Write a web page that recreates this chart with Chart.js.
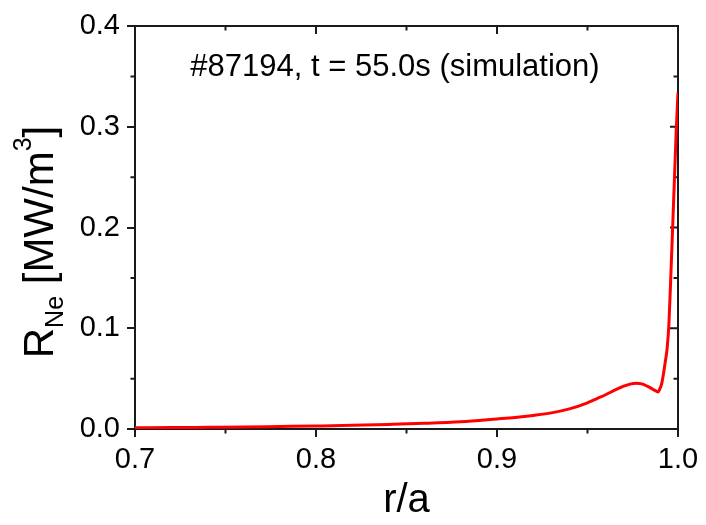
<!DOCTYPE html>
<html>
<head>
<meta charset="utf-8">
<script src="https://cdn.jsdelivr.net/npm/chart.js@4"></script>
<style>
  html, body { margin: 0; padding: 0; background: #fff; }
  canvas { display: block; }
</style>
</head>
<body>
<canvas id="c" width="706" height="525"></canvas>
<script>
// ---- data ----
const rValues = [0.70, 0.72, 0.74, 0.76, 0.78, 0.80, 0.82, 0.84, 0.86, 0.88, 0.90, 0.91, 0.92, 0.93, 0.94, 0.95, 0.955, 0.96, 0.965, 0.97, 0.974, 0.977, 0.980, 0.983, 0.986, 0.988, 0.989, 0.990, 0.991, 0.992, 0.993, 0.994, 0.995, 0.996, 0.997, 0.998, 0.999, 1.000];
const rNeValues = [0.0012, 0.0014, 0.0017, 0.0020, 0.0025, 0.0030, 0.0036, 0.0045, 0.0056, 0.0072, 0.0100, 0.0115, 0.0135, 0.0160, 0.0200, 0.0260, 0.0300, 0.0340, 0.0385, 0.0425, 0.0448, 0.0455, 0.0448, 0.0425, 0.0395, 0.0375, 0.0368, 0.0400, 0.0450, 0.0550, 0.0670, 0.0800, 0.1050, 0.1500, 0.1980, 0.2470, 0.2950, 0.3340];
const xMajorTicks = [0.7, 0.8, 0.9, 1.0];
const xMinorTicks = [0.75, 0.85, 0.95];
const yMajorTicks = [0.0, 0.1, 0.2, 0.3, 0.4];
const yMinorTicks = [0.05, 0.15, 0.25, 0.35];
const annotationText = '#87194, t = 55.0s (simulation)';
const xTitle = 'r/a';
const yTitleParts = { main: 'R', sub: 'Ne', mid: ' [MW/m', sup: '3', end: ']' };

const FONT = '"Liberation Sans", Arial, Helvetica, sans-serif';
const AXIS = '#1a1a1a';

const framePlugin = {
  id: 'frame',
  beforeDatasetsDraw(chart) {
    const {ctx, chartArea: a, scales: {x, y}} = chart;
    ctx.save();
    ctx.strokeStyle = AXIS;
    ctx.lineWidth = 2;
    ctx.strokeRect(a.left, a.top, a.right - a.left, a.bottom - a.top);
    ctx.beginPath();
    xMinorTicks.forEach(v => {
      const px = x.getPixelForValue(v);
      ctx.moveTo(px, a.bottom); ctx.lineTo(px, a.bottom + 4.5);
      ctx.moveTo(px, a.top); ctx.lineTo(px, a.top + 4.5);
    });
    xMajorTicks.forEach(v => {
      const px = x.getPixelForValue(v);
      ctx.moveTo(px, a.top); ctx.lineTo(px, a.top + 8);
    });
    yMinorTicks.forEach(v => {
      const py = y.getPixelForValue(v);
      ctx.moveTo(a.left, py); ctx.lineTo(a.left - 4.5, py);
      ctx.moveTo(a.right, py); ctx.lineTo(a.right - 4.5, py);
    });
    yMajorTicks.forEach(v => {
      const py = y.getPixelForValue(v);
      ctx.moveTo(a.right, py); ctx.lineTo(a.right - 8, py);
    });
    ctx.stroke();
    ctx.restore();
  },
  afterDraw(chart) {
    const {ctx} = chart;
    ctx.save();
    ctx.fillStyle = '#000';
    ctx.font = '31px ' + FONT;
    ctx.textAlign = 'center';
    ctx.textBaseline = 'alphabetic';
    ctx.fillText(annotationText, 395, 76);

    const big = '42px ' + FONT, small = '25px ' + FONT;
    ctx.font = big; const wMain = ctx.measureText(yTitleParts.main).width;
    const wMid = ctx.measureText(yTitleParts.mid).width;
    const wEnd = ctx.measureText(yTitleParts.end).width;
    ctx.font = small; const wSub = ctx.measureText(yTitleParts.sub).width;
    const wSup = ctx.measureText(yTitleParts.sup).width;
    const total = wMain + wSub + wMid + wSup + wEnd;
    const cy = 242, baseX = 53;
    ctx.translate(baseX, cy);
    ctx.rotate(-Math.PI / 2);
    ctx.textAlign = 'left';
    let pos = -total / 2;
    ctx.font = big; ctx.fillText(yTitleParts.main, pos, 0); pos += wMain;
    ctx.font = small; ctx.fillText(yTitleParts.sub, pos, 10); pos += wSub;
    ctx.font = big; ctx.fillText(yTitleParts.mid, pos, 0); pos += wMid;
    ctx.font = small; ctx.fillText(yTitleParts.sup, pos, -22); pos += wSup;
    ctx.font = big; ctx.fillText(yTitleParts.end, pos, 0);
    ctx.restore();
  }
};

new Chart(document.getElementById('c'), {
  type: 'line',
  data: {
    datasets: [{
      data: rValues.map((r, i) => ({x: r, y: rNeValues[i]})),
      borderColor: '#ff0000',
      borderWidth: 3,
      pointRadius: 0,
      fill: false,
      cubicInterpolationMode: 'monotone'
    }]
  },
  options: {
    responsive: false,
    animation: false,
    devicePixelRatio: 1,
    layout: { padding: { top: 26, right: 28, left: 0, bottom: 0 } },
    plugins: { legend: { display: false }, tooltip: { enabled: false } },
    scales: {
      x: {
        type: 'linear',
        min: 0.7, max: 1.0,
        afterFit: s => { s.height = 96; },
        ticks: {
          stepSize: 0.1,
          autoSkip: false,
          maxRotation: 0,
          padding: 6,
          color: '#000',
          font: { family: FONT, size: 29 },
          callback: v => Number(v).toFixed(1)
        },
        grid: { drawOnChartArea: false, drawTicks: true, tickLength: 8, color: AXIS, lineWidth: 2 },
        border: { display: true, color: AXIS, width: 2 },
        title: { display: true, text: xTitle, color: '#000', font: { family: FONT, size: 40 }, padding: { top: 0, bottom: 0 } }
      },
      y: {
        type: 'linear',
        min: 0, max: 0.4,
        afterFit: s => { s.width = 135; },
        ticks: {
          stepSize: 0.1,
          padding: 7,
          color: '#000',
          font: { family: FONT, size: 29 },
          callback: v => Number(v).toFixed(1)
        },
        grid: { drawOnChartArea: false, drawTicks: true, tickLength: 8, color: AXIS, lineWidth: 2 },
        border: { display: true, color: AXIS, width: 2 }
      }
    }
  },
  plugins: [framePlugin]
});
</script>
</body>
</html>
